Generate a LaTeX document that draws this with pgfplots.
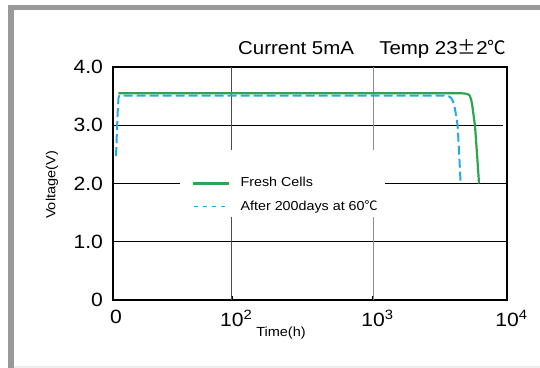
\documentclass[border=0pt]{standalone}
\usepackage{fontspec}
\setmainfont[FakeStretch=1.1]{Liberation Sans}
\newfontfamily\cjk{Noto Sans CJK SC}
\usepackage{pgfplots}
\pgfplotsset{compat=1.18}
\definecolor{fresh}{RGB}{45,165,80}
\definecolor{aged}{RGB}{35,170,225}
\definecolor{framegray}{RGB}{153,153,153}

\pgfplotstableread{
x y
0.040 3.55
1.000 3.55
2.000 3.55
2.640 3.55
2.680 3.545
2.705 3.53
2.718 3.50
2.728 3.43
2.735 3.35
2.745 3.18
2.756 3.00
2.772 2.50
2.787 2.00
}\fresh

\pgfplotstableread{
x y
0.023 2.47
0.035 3.20
0.042 3.47
0.048 3.51
1.000 3.51
2.000 3.51
2.520 3.51
2.555 3.50
2.575 3.47
2.590 3.40
2.604 3.28
2.624 3.00
2.636 2.50
2.647 2.00
}\aged

\begin{document}
\begin{tikzpicture}[x=1pt,y=1pt]
\useasboundingbox (-56.5,-34) rectangle (213.5,150);
% page frame
\fill[framegray] (-52.5,145) rectangle (213.5,147.5);
\fill[framegray] (-52.5,147.5) rectangle (-49.5,-34);
\fill[black!7] (-49.5,-34) rectangle (213.5,-32.8);
\node[anchor=base, font=\fontsize{15}{18}\selectfont, inner sep=0pt] at (-2.5,154.5) {g};

\begin{axis}[
  at={(0pt,0pt)}, anchor=south west,
  width=197pt, height=116.5pt, scale only axis,
  xmin=0, xmax=3, ymin=0, ymax=4,
  axis line style={line width=0.75pt},
  xtick={0,0.906,1.980,3},
  xticklabels={\hspace{3pt}0, 10\rlap{\textsuperscript{2}}, 10\rlap{\textsuperscript{3}}, 10\rlap{\textsuperscript{4}}},
  ytick={0,1,2,3,4}, yticklabels={0,1.0,2.0,3.0,4.0},
  tick align=inside, xtick pos=bottom, ytick pos=left,
  major tick length=2pt,
  tick style={black, line width=0.6pt},
  ticklabel style={font=\fontsize{9.6}{11}\selectfont},
  xticklabel style={yshift=-1.5pt},
  yticklabel style={xshift=-1.5pt},
  /pgf/number format/assume math mode=true,
  legend style={at={(axis cs:0.594,1.80)}, anchor=west, draw=none, fill=none,
    inner sep=0pt, row sep=1.2pt, column sep=3.5pt,
    font=\fontsize{6.5}{7.5}\selectfont},
  legend cell align=left,
  legend image code/.code={\draw[#1] (0pt,0pt) -- (18pt,0pt);},
]
% grid lines
\draw[black, line width=0.6pt] (axis cs:0,3) -- (axis cs:2.97,3);
\draw[black, line width=0.6pt] (axis cs:0,2) -- (axis cs:3,2);
\draw[black, line width=0.6pt] (axis cs:0,1) -- (axis cs:3,1);
\draw[black!70, line width=0.5pt] (axis cs:0.906,0) -- (axis cs:0.906,4);
\draw[black!45, line width=0.5pt] (axis cs:1.980,0) -- (axis cs:1.980,4);
\fill[white] (axis cs:0.510,1.425) rectangle (axis cs:2.071,2.575);

\addplot[fresh, line width=1.1pt, line join=round] table {\fresh};
\addlegendentry{Fresh Cells}
\addplot[aged, line width=1.0pt, line join=round, dash pattern=on 4.5pt off 2pt,
  legend image post style={dash pattern=on 2pt off 2.5pt, dash phase=-0.5pt, line width=0.75pt}] table {\aged};
\addlegendentry{After 200days at 60{\cjk ℃}}
\end{axis}

\node[rotate=90, font=\fontsize{6.6}{8}\selectfont] at (-30.5,57.5) {Voltage(V)};
\node[font=\fontsize{6.6}{8}\selectfont] at (84,-16.5) {Time(h)};
\node[anchor=base west, font=\fontsize{9.3}{11}\selectfont, inner sep=0pt] at (62.35,122.5) {Current 5mA};
\node[anchor=base east, font=\fontsize{9.3}{11}\selectfont, inner sep=0pt] at (196.85,122.5) {Temp 23{\cjk ±}2{\cjk ℃}};
\end{tikzpicture}
\end{document}
